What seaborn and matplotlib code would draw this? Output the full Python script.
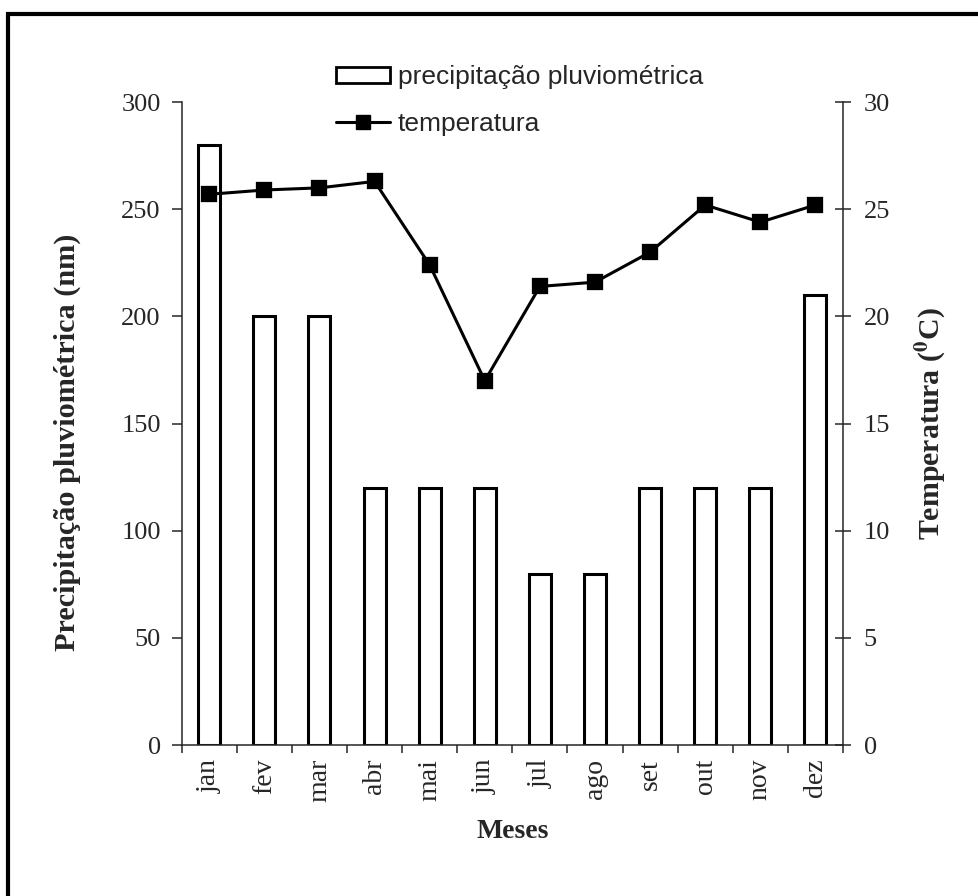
import matplotlib
matplotlib.use("Agg")
import matplotlib.pyplot as plt
import seaborn as sns
from matplotlib.patches import Rectangle, Patch
from matplotlib.lines import Line2D
from matplotlib.ticker import FixedLocator

meses = ["jan", "fev", "mar", "abr", "mai", "jun", "jul", "ago", "set", "out", "nov", "dez"]
precipitacao = [280, 200, 200, 120, 120, 120, 80, 80, 120, 120, 120, 210]
temperatura = [25.7, 25.9, 26.0, 26.3, 22.4, 17.0, 21.4, 21.6, 23.0, 25.2, 24.4, 25.2]

sns.set_style("ticks")
plt.rcParams["font.family"] = ["Liberation Serif", "DejaVu Serif"]
plt.rcParams["mathtext.fontset"] = "stix"

fig = plt.figure(figsize=(9.79, 8.96), dpi=100)
ax = fig.add_axes([0.1856, 0.1685, 0.6755, 0.7175])

# barras de precipitacao
sns.barplot(x=meses, y=precipitacao, ax=ax, color="white", edgecolor="black",
            linewidth=2.2, width=0.4, saturation=1)

# temperatura no eixo secundario
ax2 = ax.twinx()
sns.pointplot(x=meses, y=temperatura, ax=ax2, color="black", markers="s",
              markersize=10.5, linewidth=2.2, linestyles="-", errorbar=None)

ax.set_xlim(-0.5, 11.5)
ax.set_ylim(0, 300)
ax2.set_ylim(0, 30)
ax.set_yticks(range(0, 301, 50))
ax2.set_yticks(range(0, 31, 5))

for a in (ax, ax2):
    a.spines["top"].set_visible(False)
    for s in a.spines.values():
        s.set_linewidth(1.1)
ax.spines["right"].set_visible(False)
ax2.spines["left"].set_visible(False)
ax2.spines["bottom"].set_visible(False)

ax.tick_params(axis="y", direction="out", length=7, width=1.1, labelsize=19, pad=8)
ax2.tick_params(axis="y", direction="inout", length=12, width=1.1, labelsize=19, pad=9)
ax.set_xticks(range(12))
ax.set_xticklabels(meses, rotation=90, fontsize=20)
ax.tick_params(axis="x", which="major", length=0, pad=10)
ax.xaxis.set_minor_locator(FixedLocator([i - 0.5 for i in range(13)]))
ax.tick_params(axis="x", which="minor", direction="out", length=6, width=1.1)

ax.set_xlabel("Meses", fontsize=20, fontweight="bold", labelpad=12)
ax.set_ylabel("Precipitação pluviométrica (nm)", fontsize=21.8, fontweight="bold", labelpad=29)
ax.yaxis.label.set_y(0.471)
ax2.set_ylabel(r"Temperatura ($\mathbf{^{0}}$C)", fontsize=21.5, fontweight="bold", labelpad=16)

handles = [Patch(facecolor="white", edgecolor="black", linewidth=2),
           Line2D([], [], color="black", marker="s", markersize=10, linewidth=2.2)]
fig.legend(handles, ["precipitação pluviométrica", "temperatura"],
           loc="upper left", bbox_to_anchor=(0.332, 0.939), frameon=False,
           prop={"family": "Liberation Sans", "size": 19},
           handlelength=2.05, handleheight=0.55, handletextpad=0.3, labelspacing=0.85,
           borderaxespad=0)

fig.patches.append(Rectangle((0.0085, -0.1), 1.2, 0.9844 + 0.1, transform=fig.transFigure,
                             fill=False, edgecolor="black", linewidth=3))

fig.savefig("out.png", dpi=100)
